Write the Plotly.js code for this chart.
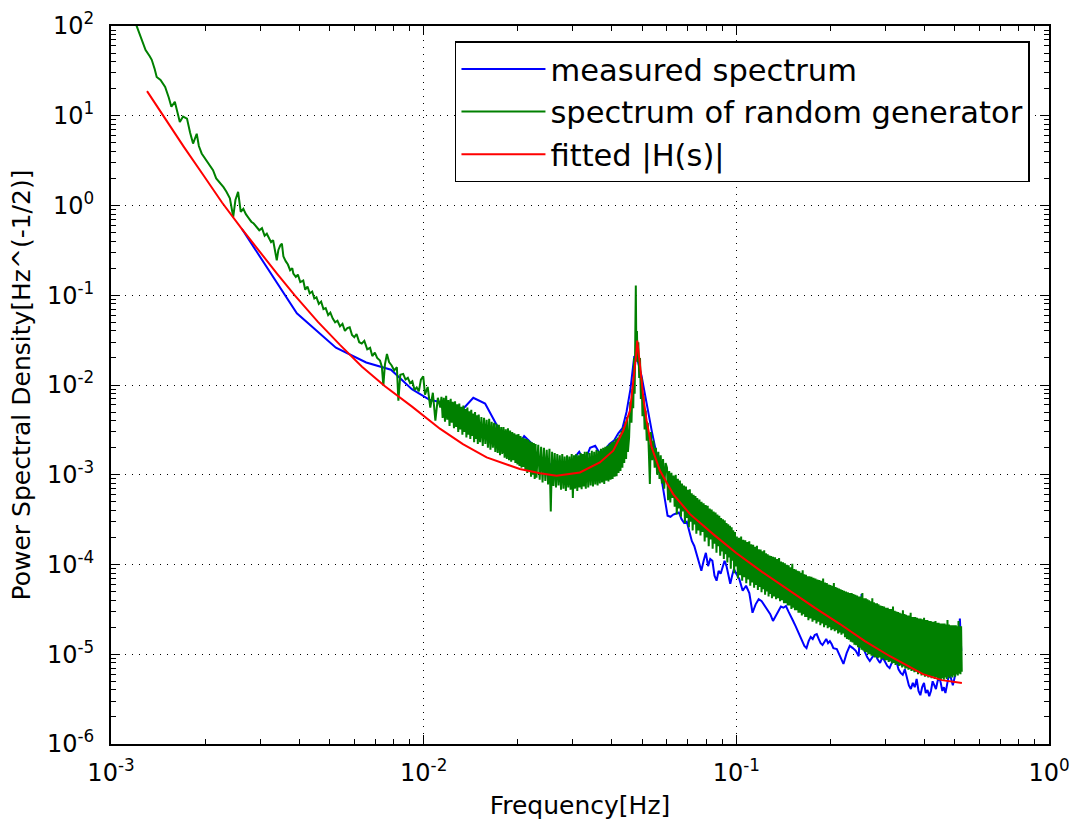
<!DOCTYPE html>
<html><head><meta charset="utf-8">
<script src="https://cdn.plot.ly/plotly-3.0.1.min.js"></script>
<style>html,body{margin:0;padding:0;background:#fff;}#chart{width:1075px;height:826px;}</style>
</head><body><div id="chart"></div>
<script>
// ---------- measured spectrum (blue) ----------
const blueLowFreq = [0.00262,0.00393,0.00524,0.00655,0.00786,0.00917,0.01048,0.01179,0.0131,0.01441,0.01572,0.01703,0.01834,0.01965,0.02096,0.02227,0.02358,0.02489,0.0262,0.02751,0.02882,0.03013,0.03144,0.03275,0.03406,0.03537,0.03668,0.03799,0.0393,0.04061,0.04192,0.04323,0.04454,0.04585,0.04716,0.04847,0.04978,0.05109,0.0524,0.05371,0.05502,0.05633,0.05764,0.05895,0.06026,0.06157,0.06288,0.06419];
const blueLowPSD = [0.55,0.063,0.026,0.0178,0.0148,0.0090,0.0068,0.0063,0.0050,0.0072,0.0062,0.0037,0.0023,0.0019,0.0027,0.0022,0.0013,0.00135,0.00125,0.0012,0.00135,0.0015,0.0018,0.0014,0.0020,0.0021,0.0017,0.0019,0.0022,0.0024,0.0029,0.0033,0.0050,0.0090,0.021,0.018,0.0125,0.0075,0.0048,0.0030,0.0020,0.0014,0.0009,0.00056,0.00035,0.00034,0.00036,0.00037];
const blueMidFreq = [0.0655,0.06681,0.06812,0.06943,0.07074,0.07205,0.07336,0.07467,0.07598,0.07729,0.0786,0.07991,0.08122,0.08253,0.08384,0.08515,0.08646,0.08777,0.08908,0.09039,0.0917,0.09301,0.09432,0.09563,0.09694,0.09825,0.09956,
  0.10218,0.1048,0.10742,0.11004,0.11266,0.11528,0.1179,0.12052,0.12314,0.12576,0.12838,0.131,0.13362,0.13624,0.13886,0.14148,0.1441,0.14672,0.14934,0.15196,0.15458,0.1572,0.15982,0.16244,0.16506,0.16768,0.1703,0.17292,0.17554,0.17816,0.18078,0.1834,0.18602,0.18864,0.19126,0.19388,0.1965,0.19912,0.20174,0.20436];
const blueMidPSD = [3.8e-4,3.2e-4,2.9e-4,3.0e-4,2.25e-4,1.83e-4,1.61e-4,1.31e-4,1.04e-4,8.5e-5,1.1e-4,1.35e-4,9.6e-5,1.15e-4,1.1e-4,7.5e-5,6.6e-5,8.5e-5,7.9e-5,9.6e-5,1.1e-4,9.6e-5,7.3e-5,6.1e-5,7.5e-5,8.9e-5,8.1e-5,
  6.9e-5,5.1e-5,5.8e-5,4.8e-5,2.9e-5,3.6e-5,4.1e-5,3.9e-5,3.45e-5,3.1e-5,2.8e-5,2.35e-5,2.7e-5,3.0e-5,3.4e-5,3.3e-5,3.45e-5,3.0e-5,2.7e-5,2.35e-5,2.07e-5,1.8e-5,1.56e-5,1.4e-5,1.24e-5,1.17e-5,1.4e-5,1.56e-5,1.48e-5,1.64e-5,1.68e-5,1.48e-5,1.33e-5,1.27e-5,1.4e-5,1.48e-5,1.33e-5,1.4e-5,1.3e-5,1.17e-5];
const blueHighFreq = [0.2096,0.21484,0.22008,0.22532,0.23056,0.2358,0.24104,0.24628,0.25152,0.25676,0.262,0.26724,0.27248,0.27772,0.28296,0.2882,0.29344,0.29868,0.30392,0.30916,0.3144,0.31964,0.32488,0.33012,0.33536,0.3406,0.34584,0.35108,0.35632,0.36156,0.3668,0.37204,0.37728,0.38252,0.38776,0.393,0.39824,0.40348,0.40872,0.41396,0.4192,0.42444,0.42968,0.43492,0.44016,0.4454,0.45064,0.45588,0.46112,0.46636,0.4716,0.47684,0.48208,0.48732,0.49256,0.4978,0.50304,0.50828,0.51352,0.51876,0.524];
const blueHighPSD = [1.14e-5,9.5e-6,7.8e-6,1.03e-5,1.24e-5,1.17e-5,1.09e-5,9.5e-6,4.7e-5,1.09e-5,9.3e-6,8.4e-6,9.5e-6,1.03e-5,8.8e-6,8.0e-6,9.3e-6,8.4e-6,7.4e-6,7.0e-6,8.2e-6,9.3e-6,8.4e-6,6.8e-6,6.2e-6,5.9e-6,6.8e-6,5.6e-6,4.5e-6,4.1e-6,4.8e-6,4.3e-6,5.3e-6,3.9e-6,3.5e-6,4.3e-6,4.8e-6,3.7e-6,4.0e-6,3.4e-6,3.9e-6,5.0e-6,4.5e-6,4.1e-6,5.0e-6,5.6e-6,4.8e-6,3.9e-6,4.3e-6,3.7e-6,4.5e-6,5.6e-6,6.0e-6,5.0e-6,4.5e-6,5.3e-6,6.5e-6,7.4e-6,1.4e-5,2.5e-5,1.09e-5];

// ---------- spectrum of random generator (green) ----------
const greenLowFreq = [0.00119,0.00124,0.00129,0.00133,0.00135,0.00138,0.00140,0.00144,0.00149,0.00153,0.00156,0.00160,0.00163,0.00166,0.00170,0.00175,0.00179,0.00183,0.00188,0.00191,0.00195,0.00200,0.00206,0.00212,0.00217,0.00223,0.00229,0.00234,0.00240,0.00246,0.00250,0.00255,0.00260,0.00265,0.00270,0.00276,0.00281,0.00286,0.00292,0.00298,0.00304,0.00310,0.00315,0.00320,0.00325,0.00330,0.00335,0.00339,0.00343,0.00348,0.00352,0.00356,0.00362,0.00368,0.00374,0.00380,0.00383,0.00390,0.00396,0.00403,0.00412,0.00418,0.00425,0.00432,0.00440,0.00447,0.00454,0.00462,0.00470,0.00478,0.00486,0.00495,0.00503,0.00512,0.00521,0.00530,0.00540,0.00550,0.00560,0.00570,0.00580,0.00590,0.00600,0.00610,0.00622,0.00634,0.00646,0.00660,0.00674,0.00685,0.00698,0.00710,0.00725,0.00735,0.00743,0.00752,0.00763,0.00775,0.00790,0.00805,0.00821,0.00830,0.00842,0.00860,0.00875,0.00890,0.00905,0.00920,0.00935,0.00950,0.00965,0.00980,0.00997,0.0101,0.0103,0.0105,0.0107,0.0109,0.0111,0.0113];
const greenLowPSD = [115,80,54,46,42,33,27,25,21,16,12.6,14.3,11,8.5,9.8,9.3,6.5,4.9,6.3,4.6,3.8,3.3,2.9,2.47,2.0,1.8,1.6,1.42,1.2,0.745,1.15,1.42,0.85,0.92,0.80,0.72,0.66,0.63,0.58,0.53,0.56,0.46,0.485,0.43,0.39,0.41,0.30,0.245,0.32,0.36,0.376,0.27,0.24,0.22,0.19,0.20,0.174,0.16,0.17,0.14,0.146,0.115,0.125,0.105,0.11,0.092,0.095,0.080,0.085,0.070,0.072,0.060,0.064,0.055,0.050,0.052,0.045,0.048,0.040,0.043,0.044,0.036,0.034,0.037,0.030,0.029,0.031,0.025,0.026,0.021,0.023,0.020,0.0187,0.016,0.0098,0.017,0.0222,0.018,0.0165,0.0145,0.0158,0.0067,0.013,0.0133,0.0115,0.012,0.0105,0.011,0.0088,0.0094,0.0085,0.0115,0.0125,0.0078,0.0095,0.0056,0.0082,0.0040,0.0072,0.0056];
const greenMidFreq = [
  0.0114,0.0115,0.0116,0.0117,0.0118,0.0119,0.0120,0.0121,0.0122,0.0123,0.0124,0.0125,0.0126,0.0127,0.0128,0.0129,0.0130,0.0131,0.0132,0.0133,0.0134,0.0135,0.0136,0.0137,0.0138,0.0139,0.0140,0.0141,0.0142,0.0143,0.0144,0.0145,0.0146,0.0147,0.0148,0.0149,0.0150,
  0.01515,0.0153,0.01545,0.0156,0.01575,0.0159,0.01605,0.0162,0.01635,0.0165,0.01665,0.0168,0.01695,0.0171,0.01725,0.0174,0.01755,0.0177,0.01785,0.018,0.01815,0.0183,0.01845,0.0186,0.01875,0.0189,0.01905,0.0192,0.01935,0.0195,0.01965,0.0198,0.01995,0.0201,0.02025,0.0204,0.02055,0.0207,0.02085,0.021,0.02115,0.0213,0.02145,0.0216,0.02175,0.0219,0.02205,0.0222,0.02235,0.0225,0.02265,0.0228,0.02295,
  0.02325,0.0235,0.02375,0.024,0.02425,0.0245,0.02475,0.025,0.02525,0.0255,0.02575,0.026,0.02625,0.0265,0.02675,0.027,0.02725,0.0275,0.02775,0.028,0.02825,0.0285,0.02875,0.029,0.02925,0.0295,0.02975,0.030,0.03025,0.0305,0.03075,0.031,0.03125,0.0315,0.03175,0.032,0.03225,0.0325,0.03275,0.033,
  0.0333,0.0336,0.0339,0.0342,0.0345,0.0348,0.0351,0.0354,0.0357,0.0360,0.0363,0.0366,0.0369,0.0372,0.0375,0.0378,0.0381,0.0384,0.0387,0.0390,0.0393,0.0396,0.0399,0.0402,0.0405,0.0408,0.0411,0.0414,0.0417,0.0420,0.0423,0.0426,0.0429,0.0432,0.0435,0.0438,0.0441,0.0444,0.0447,0.0450];
const greenMidPSD = [
  7.4e-3,4.3e-3,7.2e-3,3.9e-3,7.6e-3,4.1e-3,6.8e-3,3.5e-3,7.0e-3,3.8e-3,6.5e-3,3.3e-3,6.6e-3,3.4e-3,6.1e-3,3.0e-3,6.2e-3,3.2e-3,5.7e-3,2.8e-3,5.9e-3,3.0e-3,5.4e-3,2.6e-3,5.6e-3,2.8e-3,5.1e-3,2.5e-3,5.3e-3,2.7e-3,4.8e-3,2.3e-3,5.0e-3,2.5e-3,4.6e-3,2.2e-3,4.7e-3,
  2.3e-3,4.4e-3,2.1e-3,4.3e-3,2.2e-3,4.1e-3,2.0e-3,4.2e-3,1.9e-3,3.9e-3,2.0e-3,3.8e-3,1.8e-3,3.7e-3,1.75e-3,3.6e-3,1.65e-3,3.4e-3,1.7e-3,3.4e-3,1.55e-3,3.2e-3,1.5e-3,3.3e-3,1.45e-3,3.1e-3,1.4e-3,3.0e-3,1.45e-3,2.9e-3,1.35e-3,2.8e-3,1.3e-3,2.85e-3,1.25e-3,2.7e-3,1.2e-3,2.6e-3,1.22e-3,2.55e-3,1.1e-3,2.5e-3,1.05e-3,2.45e-3,1.1e-3,2.35e-3,9.5e-4,2.3e-3,1.0e-3,2.25e-3,9.0e-4,2.2e-3,9.3e-4,
  2.15e-3,8.8e-4,2.05e-3,8.2e-4,2.0e-3,8.5e-4,1.9e-3,7.8e-4,1.95e-3,3.9e-4,1.8e-3,7.5e-4,1.75e-3,7.2e-4,1.7e-3,7.6e-4,1.65e-3,6.8e-4,1.7e-3,7.0e-4,1.6e-3,6.6e-4,1.65e-3,7.2e-4,1.6e-3,6.8e-4,1.7e-3,5.5e-4,1.65e-3,7.0e-4,1.7e-3,6.6e-4,1.65e-3,7.2e-4,1.75e-3,6.9e-4,1.7e-3,7.4e-4,1.8e-3,7.0e-4,
  1.8e-3,7.2e-4,1.75e-3,7.6e-4,1.85e-3,7.4e-4,1.8e-3,7.8e-4,1.9e-3,7.6e-4,1.85e-3,8.0e-4,1.95e-3,8.2e-4,2.0e-3,7.9e-4,2.05e-3,8.6e-4,2.1e-3,8.4e-4,2.2e-3,8.8e-4,2.3e-3,9.0e-4,2.35e-3,9.5e-4,2.5e-3,9.6e-4,2.6e-3,1.05e-3,2.8e-3,1.1e-3,3.1e-3,1.2e-3,3.4e-3,1.35e-3,3.9e-3,1.5e-3,4.4e-3,1.8e-3];
const greenPeakFreq = [0.0454,0.0458,0.0462,0.0465,0.0468,0.0471,0.0473,0.0475,0.0477,0.0479,0.0481,0.0483,0.0486,0.0489,0.0492,0.0495,0.0498,0.0501,0.0505,0.0509,0.0513,0.0517,0.0521,0.0525,0.0529,0.0533,0.0538,0.0543,0.0548,0.0553,0.0558,0.0563,0.0568,0.0573,0.0578,0.0583,0.0588,0.0594];
const greenPeakPSD = [2.6e-3,6.5e-3,3.8e-3,9.0e-3,5.5e-3,0.020,8.0e-3,0.035,0.128,0.020,0.040,0.018,0.030,0.012,0.020,7.0e-3,0.012,4.5e-3,7.5e-3,3.2e-3,5.2e-3,2.4e-3,3.8e-3,1.8e-3,7.9e-4,3.0e-3,1.45e-3,2.4e-3,1.2e-3,2.0e-3,1.0e-3,1.8e-3,9.0e-4,1.65e-3,8.0e-4,1.5e-3,7.0e-4,1.35e-3];
const greenBandFreq = [
  0.0600,0.0605,0.0610,0.0615,0.0620,0.0625,0.0630,0.0635,0.0640,0.0645,0.0650,0.0655,0.0660,0.0665,0.0670,0.0675,0.0680,0.0685,0.0690,0.0695,0.0700,0.0705,0.0710,0.0715,0.0720,0.0725,0.0730,0.0735,0.0740,0.0745,0.0750,
  0.0756,0.0762,0.0768,0.0774,0.0780,0.0786,0.0792,0.0798,0.0804,0.0810,0.0816,0.0822,0.0828,0.0834,0.0840,0.0846,0.0852,0.0858,0.0864,0.0870,0.0876,0.0882,0.0888,0.0894,0.0900,0.0906,0.0912,0.0918,0.0924,0.0930,0.0936,0.0942,0.0948,0.0954,0.0960,0.0966,0.0972,0.0978,0.0984,0.0990,0.0996,
  0.1004,0.1012,0.1020,0.1028,0.1036,0.1044,0.1052,0.1060,0.1068,0.1076,0.1084,0.1092,0.1100,0.1108,0.1116,0.1124,0.1132,0.1140,0.1148,0.1156,0.1164,0.1172,0.1180,0.1188,0.1196,0.1204,0.1212,0.1220,0.1228,0.1236,0.1244,0.1252,0.1260,0.1268,0.1276,0.1284,0.1292,0.1300,
  0.1310,0.1320,0.1330,0.1340,0.1350,0.1360,0.1370,0.1380,0.1390,0.1400,0.1410,0.1420,0.1430,0.1440,0.1450,0.1460,0.1470,0.1480,0.1490,0.1500,0.1510,0.1520,0.1530,0.1540,0.1550,0.1560,0.1570,0.1580,0.1590,0.1600,0.1610,0.1620,0.1630,0.1640,0.1650,0.1660,0.1670,0.1680,0.1690,0.1700,
  0.1713,0.1726,0.1739,0.1752,0.1765,0.1778,0.1791,0.1804,0.1817,0.1830,0.1843,0.1856,0.1869,0.1882,0.1895,0.1908,0.1921,0.1934,0.1947,0.1960,0.1973,0.1986,0.1999,0.2012,0.2025,0.2038,0.2051,0.2064,0.2077,0.2090,0.2103,0.2116,0.2129,0.2142,0.2155,0.2168,0.2181,0.2194,
  0.2210,0.2226,0.2242,0.2258,0.2274,0.2290,0.2306,0.2322,0.2338,0.2354,0.2370,0.2386,0.2402,0.2418,0.2434,0.2450,0.2466,0.2482,0.2498,0.2514,0.2530,0.2546,0.2562,0.2578,0.2594,0.2610,0.2626,0.2642,0.2658,0.2674,0.2690,0.2706,0.2722,0.2738,0.2754,0.2770,0.2786,0.2802,0.2818,0.2834,0.2850,
  0.2870,0.2890,0.2910,0.2930,0.2950,0.2970,0.2990,0.3010,0.3030,0.3050,0.3070,0.3090,0.3110,0.3130,0.3150,0.3170,0.3190,0.3210,0.3230,0.3250,0.3270,0.3290,0.3310,0.3330,0.3350,0.3370,0.3390,0.3410,0.3430,0.3450,0.3470,0.3490,0.3510,0.3530,0.3550,0.3570,0.3590,0.3610,0.3630,0.3650,0.3670,0.3690,0.3710,
  0.3735,0.3760,0.3785,0.3810,0.3835,0.3860,0.3885,0.3910,0.3935,0.3960,0.3985,0.4010,0.4035,0.4060,0.4085,0.4110,0.4135,0.4160,0.4185,0.4210,0.4235,0.4260,0.4285,0.4310,0.4335,0.4360,0.4385,0.4410,0.4435,0.4460,0.4485,0.4510,0.4535,0.4560,0.4585,0.4610,0.4635,0.4660,0.4685,0.4710,0.4735,0.4760,0.4785,0.4810,0.4835,0.4860,0.4885,0.4910,0.4935,0.4960,0.4985,0.5010,0.5035,0.5060,0.5085,0.5110,0.5135,0.5160,0.5185,0.5210,0.5235,0.5260];
const greenBandPSD = [
  1.2e-3,5.2e-4,1.1e-3,4.9e-4,1.05e-3,5.5e-4,9.8e-4,4.4e-4,1.0e-3,3.6e-4,9.0e-4,4.2e-4,8.6e-4,3.4e-4,8.0e-4,3.9e-4,7.6e-4,2.9e-4,7.4e-4,3.3e-4,6.8e-4,2.6e-4,6.9e-4,3.0e-4,6.2e-4,2.4e-4,6.0e-4,2.8e-4,5.8e-4,2.2e-4,5.5e-4,
  2.4e-4,5.3e-4,2.1e-4,5.0e-4,2.3e-4,4.8e-4,1.8e-4,4.6e-4,2.0e-4,4.5e-4,1.6e-4,4.2e-4,1.9e-4,4.1e-4,1.5e-4,3.9e-4,1.7e-4,3.8e-4,1.35e-4,3.6e-4,1.6e-4,3.5e-4,1.25e-4,3.3e-4,1.4e-4,3.2e-4,1.15e-4,3.1e-4,1.3e-4,2.9e-4,1.05e-4,2.8e-4,1.2e-4,2.7e-4,9.0e-5,2.6e-4,1.1e-4,2.4e-4,8.0e-5,2.3e-4,9.5e-5,
  2.05e-4,7.0e-5,1.98e-4,7.6e-5,2.05e-4,6.6e-5,1.88e-4,7.2e-5,1.86e-4,6.2e-5,1.78e-4,6.8e-5,1.82e-4,5.8e-5,1.68e-4,6.3e-5,1.66e-4,5.5e-5,1.58e-4,5.9e-5,1.62e-4,5.2e-5,1.48e-4,5.6e-5,1.47e-4,4.9e-5,1.40e-4,5.3e-5,1.44e-4,4.6e-5,1.33e-4,5.0e-5,1.30e-4,4.4e-5,1.26e-4,4.7e-5,1.24e-4,4.2e-5,
  1.22e-4,4.4e-5,1.2e-4,4.1e-5,1.15e-4,4.2e-5,1.18e-4,3.9e-5,1.08e-4,4.0e-5,1.06e-4,3.7e-5,1.03e-4,3.7e-5,9.9e-5,3.5e-5,9.8e-5,3.5e-5,9.3e-5,3.2e-5,1.02e-4,3.3e-5,8.9e-5,3.1e-5,8.8e-5,3.1e-5,8.5e-5,2.9e-5,8.4e-5,2.9e-5,8.1e-5,2.7e-5,8.6e-5,2.8e-5,7.8e-5,2.6e-5,7.7e-5,2.6e-5,7.4e-5,2.4e-5,
  7.4e-5,2.5e-5,7.3e-5,2.3e-5,7.1e-5,2.4e-5,7.0e-5,2.2e-5,6.8e-5,2.3e-5,6.7e-5,2.1e-5,6.6e-5,2.2e-5,7.0e-5,2.0e-5,6.3e-5,2.1e-5,6.2e-5,1.95e-5,6.0e-5,2.0e-5,5.9e-5,1.85e-5,5.8e-5,1.9e-5,6.2e-5,1.8e-5,5.6e-5,1.85e-5,5.5e-5,1.7e-5,5.4e-5,1.75e-5,5.3e-5,1.65e-5,5.2e-5,1.7e-5,
  5.1e-5,1.55e-5,5.0e-5,1.48e-5,4.9e-5,1.45e-5,4.8e-5,1.38e-5,4.8e-5,1.35e-5,4.7e-5,1.28e-5,4.6e-5,1.26e-5,4.5e-5,1.2e-5,4.4e-5,1.18e-5,4.4e-5,1.12e-5,4.8e-5,1.1e-5,4.2e-5,1.06e-5,4.2e-5,1.05e-5,4.1e-5,1.0e-5,4.0e-5,1.0e-5,3.9e-5,9.6e-6,4.2e-5,9.6e-6,3.8e-5,9.2e-6,3.7e-5,9.3e-6,3.7e-5,9.0e-6,3.6e-5,
  9.2e-6,3.5e-5,8.8e-6,3.45e-5,9.0e-6,3.4e-5,8.5e-6,3.3e-5,8.6e-6,3.3e-5,8.2e-6,3.2e-5,8.3e-6,3.2e-5,7.9e-6,3.4e-5,8.0e-6,3.05e-5,7.6e-6,3.0e-5,7.8e-6,2.95e-5,7.4e-6,2.9e-5,7.5e-6,2.85e-5,7.1e-6,3.1e-5,7.3e-6,2.8e-5,6.9e-6,2.75e-5,7.0e-6,2.7e-5,6.7e-6,2.7e-5,6.8e-6,2.9e-5,6.5e-6,2.6e-5,6.6e-6,2.6e-5,6.3e-6,
  2.6e-5,6.4e-6,2.55e-5,6.0e-6,2.5e-5,6.2e-6,2.5e-5,5.8e-6,2.45e-5,6.0e-6,2.55e-5,5.6e-6,2.4e-5,5.8e-6,2.4e-5,5.5e-6,2.35e-5,5.7e-6,2.35e-5,5.4e-6,2.3e-5,5.6e-6,2.3e-5,5.3e-6,2.35e-5,5.5e-6,2.25e-5,5.2e-6,2.25e-5,5.4e-6,2.2e-5,5.2e-6,2.2e-5,5.4e-6,2.2e-5,5.2e-6,2.2e-5,5.5e-6,2.15e-5,5.3e-6,2.4e-5,5.6e-6,2.15e-5,5.4e-6,2.1e-5,5.7e-6,2.1e-5,5.5e-6,2.1e-5,5.8e-6,2.1e-5,5.6e-6,2.1e-5,6.0e-6,2.05e-5,5.8e-6,2.35e-5,6.1e-6,2.05e-5,6.0e-6,2.05e-5,6.4e-6];

// ---------- fitted |H(s)| (red) ----------
const redFreq = [0.001304,0.00150,0.00171,0.00197,0.002265,0.00262,0.002995,0.00340,0.003877,0.00459,0.00540,0.00635,0.00752,0.00918,0.01127,0.01335,0.0159,0.0203,0.02354,0.02662,0.0316,0.0366,0.0404,0.0435,0.0457,0.0468,0.04775,0.0482,0.0487,0.04915,0.0504,0.05165,0.0536,0.0570,0.0628,0.0711,0.0843,0.0997,0.1208,0.1484,0.1784,0.2145,0.2577,0.3099,0.3590,0.3952,0.4545,0.5264];
const redPSD = [18.8,8.9,4.5,2.2,1.08,0.55,0.30,0.173,0.099,0.0505,0.028,0.0160,0.00967,0.00574,0.00326,0.00219,0.00156,0.001158,0.001039,0.000974,0.001061,0.001372,0.001853,0.0031,0.00518,0.01028,0.0204,0.0313,0.0242,0.0172,0.00729,0.0040,0.00202,0.001108,0.000609,0.000364,0.000218,0.000135,8.27e-5,5.07e-5,3.28e-5,2.17e-5,1.40e-5,9.5e-6,7.2e-6,6.0e-6,5.15e-6,4.77e-6];

// ---------- axes ticks ----------
const xTickVals = [0.001, 0.01, 0.1, 1];
const xTickText = ['10<sup>-3</sup>','10<sup>-2</sup>','10<sup>-1</sup>','10<sup>0</sup>'];
const yTickVals = [1e-6,1e-5,1e-4,1e-3,1e-2,1e-1,1,10,100];
const yTickText = ['10<sup>-6</sup>','10<sup>-5</sup>','10<sup>-4</sup>','10<sup>-3</sup>','10<sup>-2</sup>','10<sup>-1</sup>','10<sup>0</sup>','10<sup>1</sup>','10<sup>2</sup>'];
const seriesNames = ['measured spectrum','spectrum of random generator','fitted |H(s)|'];

function minorVals(e0, e1) {
  const v = [];
  for (let e = e0; e < e1; e++) for (let d = 2; d <= 9; d++) v.push(d * Math.pow(10, e));
  return v;
}

const FONT = 'DejaVu Sans, Bitstream Vera Sans, sans-serif';
const axisBase = {
  type: 'log', showline: true, linecolor: '#000', linewidth: 2, mirror: 'allticks',
  ticks: 'inside', ticklen: 9, tickwidth: 1, tickcolor: '#000',
  showgrid: true, gridcolor: '#000', gridwidth: 1, griddash: '1px,6px',
  zeroline: false, tickmode: 'array',
  tickfont: {family: FONT, size: 24, color: '#000'}
};

const traces = [
  {x: blueLowFreq.concat(blueMidFreq, blueHighFreq), y: blueLowPSD.concat(blueMidPSD, blueHighPSD),
   type: 'scatter', mode: 'lines', name: seriesNames[0], legendgroup: 'a',
   line: {color: '#0000ff', width: 2}},
  {x: greenLowFreq.concat(greenMidFreq, greenPeakFreq, greenBandFreq), y: greenLowPSD.concat(greenMidPSD, greenPeakPSD, greenBandPSD),
   type: 'scatter', mode: 'lines', name: seriesNames[1], legendgroup: 'b',
   line: {color: '#008000', width: 2}},
  {x: redFreq, y: redPSD, type: 'scatter', mode: 'lines', name: seriesNames[2], legendgroup: 'c',
   line: {color: '#ff0000', width: 2}}
];

const layout = {
  width: 1075, height: 826,
  margin: {l: 111, r: 26, t: 26, b: 82},
  paper_bgcolor: '#fff', plot_bgcolor: '#fff',
  font: {family: FONT, color: '#000'},
  showlegend: true,
  hovermode: false,
  xaxis: Object.assign({}, axisBase, {
    range: [-3, 0], tickvals: xTickVals, ticktext: xTickText, ticklabelstandoff: 6,
    minor: {tickmode: 'array', tickvals: minorVals(-3, 0), ticks: 'inside', ticklen: 5, tickwidth: 1, tickcolor: '#000', showgrid: false},
    title: {text: 'Frequency[Hz]', font: {family: FONT, size: 25, color: '#000'}, standoff: 11}
  }),
  yaxis: Object.assign({}, axisBase, {
    range: [-6, 2], tickvals: yTickVals, ticktext: yTickText, ticklabelstandoff: 10,
    minor: {tickmode: 'array', tickvals: minorVals(-6, 2), ticks: 'inside', ticklen: 5, tickwidth: 1, tickcolor: '#000', showgrid: false},
    title: {text: 'Power Spectral Density[Hz^(-1/2)]', font: {family: FONT, size: 25, color: '#000'}, standoff: 9}
  }),
  legend: {
    x: 0.3667, y: 0.979, xanchor: 'left', yanchor: 'top',
    bgcolor: '#fff', bordercolor: '#000', borderwidth: 1.5,
    font: {family: FONT, size: 30.5, color: '#000'},
    traceorder: 'grouped', tracegroupgap: 0, itemwidth: 84
  }
};

Plotly.newPlot('chart', traces, layout, {displayModeBar: false, staticPlot: true});
</script>
</body></html>
